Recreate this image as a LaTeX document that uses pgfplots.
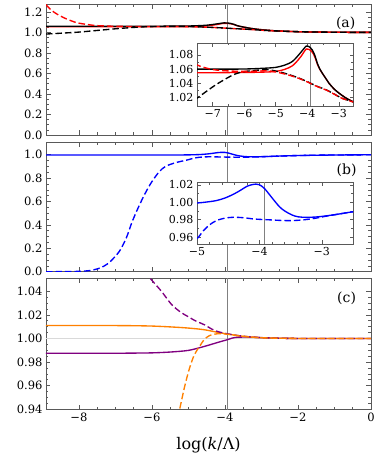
\documentclass[border=0pt]{standalone}
\usepackage{fontspec}
\setmainfont{DejaVu Serif}
\usepackage{pgfplots}
\pgfplotsset{compat=1.18}
\usepackage{pgfplotstable}

% ---------- panel (a) ----------
\pgfplotstableread{
x y
-8.9 1.060
-8.4 1.060
-7.9 1.060
-7.4 1.060
-6.9 1.060
-6.4 1.0601
-6.0 1.0602
-5.5 1.061
-5.0 1.0625
-4.7 1.066
-4.5 1.070
-4.37 1.0753
-4.2 1.084
-4.1 1.0894
-4.03 1.0927
-3.95 1.0920
-3.84 1.087
-3.75 1.078
-3.68 1.068
-3.6 1.060
-3.52 1.054
-3.4 1.046
-3.31 1.040
-3.15 1.032
-2.99 1.026
-2.8 1.020
-2.55 1.014
-2.3 1.010
-2.0 1.007
-1.5 1.0035
-1.0 1.0015
-0.5 1.0005
0 1.0
}\blacksolid
\pgfplotstableread{
x y
-8.9 1.055
-8.4 1.055
-7.9 1.055
-7.4 1.055
-6.9 1.055
-6.4 1.0552
-6.0 1.0553
-5.5 1.0557
-5.0 1.0567
-4.7 1.060
-4.5 1.064
-4.37 1.069
-4.2 1.078
-4.1 1.0847
-4.03 1.0885
-3.95 1.0880
-3.84 1.084
-3.75 1.076
-3.68 1.067
-3.6 1.0595
-3.52 1.054
-3.4 1.046
-3.31 1.040
-3.15 1.032
-2.99 1.026
-2.8 1.020
-2.55 1.014
-2.3 1.010
-2.0 1.007
-1.5 1.0035
-1.0 1.0015
-0.5 1.0005
0 1.0
}\redsolid
\pgfplotstableread{
x y
-8.9 0.984
-8.5 0.992
-8.0 1.003
-7.5 1.019
-6.9 1.038
-6.35 1.052
-6.0 1.0565
-5.6 1.0585
-5.2 1.059
-4.7 1.054
-4.3 1.048
-4.0 1.0424
-3.7 1.036
-3.41 1.031
-3.15 1.025
-2.9 1.019
-2.55 1.014
-2.0 1.007
-1.5 1.0035
-1.0 1.0015
-0.5 1.0005
0 1.0
}\blackdashed
\pgfplotstableread{
x y
-8.9 1.27
-8.75 1.215
-8.56 1.17
-8.33 1.13
-8.06 1.095
-7.79 1.078
-7.5 1.066
-7.0 1.0595
-6.5 1.0575
-6.0 1.0568
-5.6 1.0572
-5.2 1.0575
-4.7 1.0530
-4.3 1.0475
-4.0 1.0420
-3.7 1.0357
-3.41 1.0307
-3.15 1.0248
-2.9 1.0188
-2.55 1.0138
-2.0 1.007
-1.5 1.0035
-1.0 1.0015
-0.5 1.0005
0 1.0
}\reddashed

% ---------- panel (b) ----------
\pgfplotstableread{
x y
-8.9 0.998
-8.4 0.998
-7.9 0.998
-7.4 0.998
-6.9 0.998
-6.4 0.998
-5.9 0.998
-5.5 0.9981
-5.2 0.9985
-5.0 0.9992
-4.85 1.0003
-4.69 1.0020
-4.55 1.0050
-4.41 1.0095
-4.3 1.0140
-4.2 1.0184
-4.12 1.0203
-4.06 1.0210
-4.0 1.0203
-3.92 1.0160
-3.84 1.0090
-3.76 1.0018
-3.68 0.9950
-3.6 0.9903
-3.48 0.9855
-3.38 0.9833
-3.25 0.9827
-3.11 0.9830
-2.97 0.9840
-2.83 0.9854
-2.68 0.9870
-2.53 0.9888
-2.3 0.9910
-2.0 0.9935
-1.5 0.9962
-1.0 0.9980
-0.5 0.9992
0 1.0
}\bluesolid
\pgfplotstableread{
x y
-8.9 0.0
-8.5 0.0005
-8.0 0.003
-7.7 0.010
-7.44 0.030
-7.2 0.070
-6.9 0.170
-6.7 0.290
-6.55 0.420
-6.4 0.530
-6.28 0.610
-6.15 0.690
-6.0 0.770
-5.8 0.855
-5.63 0.900
-5.4 0.928
-5.2 0.944
-5.0 0.958
-4.9 0.967
-4.8 0.974
-4.69 0.9789
-4.55 0.9818
-4.41 0.9828
-4.25 0.9822
-4.09 0.9808
-3.95 0.9802
-3.83 0.9798
-3.68 0.9792
-3.54 0.9789
-3.4 0.9792
-3.27 0.9800
-3.1 0.9817
-2.94 0.9839
-2.75 0.9862
-2.53 0.9888
-2.3 0.9910
-2.0 0.9935
-1.5 0.9962
-1.0 0.9980
-0.5 0.9992
0 1.0
}\bluedashed

% ---------- panel (c) ----------
\pgfplotstableread{
x y
-8.9 1.0110
-8.4 1.0110
-7.9 1.0110
-7.4 1.0110
-6.9 1.0109
-6.5 1.0108
-6.0 1.0105
-5.5 1.0098
-5.0 1.0088
-4.57 1.0074
-4.2 1.0052
-3.94 1.0038
-3.67 1.0025
-3.4 1.0015
-3.0 1.0006
-2.5 1.0002
-2.0 1.0
-1.5 1.0
-1.0 1.0
-0.5 1.0
0 1.0
}\orangesolid
\pgfplotstableread{
x y
-8.9 0.9875
-8.4 0.9875
-7.9 0.9875
-7.4 0.9875
-6.9 0.9875
-6.5 0.9876
-6.0 0.9878
-5.5 0.9885
-5.0 0.9899
-4.57 0.9932
-4.2 0.9966
-3.94 0.9989
-3.8 1.0003
-3.67 1.0010
-3.4 1.0012
-3.0 1.0007
-2.5 1.0002
-2.0 1.0
-1.5 1.0
-1.0 1.0
-0.5 1.0
0 1.0
}\purplesolid
\pgfplotstableread{
x y
-6.2 1.057
-6.05 1.051
-5.74 1.040
-5.46 1.0287
-5.2 1.0220
-5.02 1.0187
-4.8 1.0148
-4.57 1.0117
-4.35 1.0078
-4.16 1.0055
-3.94 1.0040
-3.7 1.0027
-3.4 1.0016
-3.0 1.0007
-2.5 1.0002
-2.0 1.0
-1.5 1.0
-1.0 1.0
-0.5 1.0
0 1.0
}\purpledashed
\pgfplotstableread{
x y
-5.35 0.925
-5.24 0.940
-5.1 0.9597
-4.97 0.9748
-4.84 0.9860
-4.7 0.9930
-4.57 0.9989
-4.43 1.0023
-4.2 1.0040
-3.94 1.0036
-3.67 1.0025
-3.4 1.0015
-3.0 1.0006
-2.5 1.0002
-2.0 1.0
-1.5 1.0
-1.0 1.0
-0.5 1.0
0 1.0
}\orangedashed

\definecolor{mred}{rgb}{1,0,0}
\definecolor{mblue}{rgb}{0,0,1}
\definecolor{morange}{rgb}{1,0.5,0}
\definecolor{mpurple}{rgb}{0.5,0,0.5}
\definecolor{framegray}{gray}{0.35}

\pgfplotsset{
  frame/.style={
    scale only axis,
    axis line style={framegray, line width=0.8pt},
    tick style={framegray, line width=0.6pt},
    major tick length=4.5pt, minor tick length=2.5pt,
    tick align=inside,
    tick label style={font=\fontsize{11.5}{12}\selectfont, text=black},
    /pgf/number format/assume math mode=true,
  },
  main/.style={
    frame, width=325pt, xmin=-8.9, xmax=0,
    xtick={-8,-6,-4,-2,0}, minor x tick num=3, minor y tick num=3,
  },
  inset/.style={
    frame, width=156pt,
    axis background/.style={fill=white},
    tick label style={font=\fontsize{11}{12}\selectfont, text=black},
    major tick length=3.5pt, minor tick length=2pt,
  },
  curve/.style={line width=1.35pt, smooth, no markers},
  dsh/.style={dash pattern=on 6.5pt off 3pt},
  vline/.style={gray, line width=1pt, no markers},
}

\begin{document}
\begin{tikzpicture}
\path[use as bounding box] (-46pt,0pt) rectangle (328pt,-454pt);

% ===== (a) =====
\begin{axis}[main, at={(0pt,-4.7pt)}, anchor=north west, height=130.3pt,
  ymin=0, ymax=1.27, ytick={0,0.2,0.4,0.6,0.8,1.0,1.2},
  yticklabels={0.0,0.2,0.4,0.6,0.8,1.0,1.2}, xticklabels={}]
\addplot[vline] coordinates {(-3.92,0) (-3.92,1.27)};
\addplot[curve, mred] table {\redsolid};
\addplot[curve, black] table {\blacksolid};
\addplot[curve, dsh, mred] table {\reddashed};
\addplot[curve, dsh, black] table {\blackdashed};
\node[font=\fontsize{14}{16}\selectfont] at (rel axis cs:0.922,0.857) {(a)};
\end{axis}

\begin{axis}[inset, at={(151pt,-43.3pt)}, anchor=north west, height=62.7pt,
  xmin=-7.5, xmax=-2.55, ymin=1.008, ymax=1.0965,
  xtick={-7,-6,-5,-4,-3}, xticklabels={−7,−6,−5,−4,−3}, minor x tick num=1,
  ytick={1.02,1.04,1.06,1.08}, yticklabels={1.02,1.04,1.06,1.08}, minor y tick num=1]
\addplot[vline] coordinates {(-3.91,1.0) (-3.91,1.1)};
\addplot[curve, mred] table {\redsolid};
\addplot[curve, black] table {\blacksolid};
\addplot[curve, dsh, black] table {\blackdashed};
\addplot[curve, dsh, mred] table {\reddashed};
\end{axis}

% ===== (b) =====
\begin{axis}[main, at={(0pt,-142.5pt)}, anchor=north west, height=129.2pt,
  ymin=0, ymax=1.105, ytick={0,0.2,0.4,0.6,0.8,1.0},
  yticklabels={0.0,0.2,0.4,0.6,0.8,1.0}, xticklabels={}]
\addplot[vline] coordinates {(-3.92,0) (-3.92,1.2)};
\addplot[curve, mblue] table {\bluesolid};
\addplot[curve, dsh, mblue] table {\bluedashed};
\node[font=\fontsize{14}{16}\selectfont] at (rel axis cs:0.925,0.787) {(b)};
\end{axis}

\begin{axis}[inset, at={(151pt,-182.7pt)}, anchor=north west, height=61.3pt,
  xmin=-5, xmax=-2.5, ymin=0.952, ymax=1.0226,
  xtick={-5,-4,-3}, xticklabels={−5,−4,−3}, minor x tick num=4,
  ytick={0.96,0.98,1.00,1.02}, yticklabels={0.96,0.98,1.00,1.02}, minor y tick num=1]
\addplot[vline] coordinates {(-3.92,0.9) (-3.92,1.1)};
\addplot[curve, mblue] table {\bluesolid};
\addplot[curve, dsh, mblue] table {\bluedashed};
\end{axis}

% ===== (c) =====
\begin{axis}[main, at={(0pt,-278pt)}, anchor=north west, height=131.3pt,
  ymin=0.94, ymax=1.0512, ytick={0.94,0.96,0.98,1.00,1.02,1.04},
  yticklabels={0.94,0.96,0.98,1.00,1.02,1.04},
  xticklabels={−8,−6,−4,−2,0},
  xlabel={log(\textit{k}/Λ)},
  xlabel style={font=\fontsize{16}{18}\selectfont, at={(axis description cs:0.5,-0.27)}, anchor=center}]
\addplot[black!15, line width=1.2pt, no markers] coordinates {(-8.9,1.0) (0,1.0)};
\addplot[vline] coordinates {(-3.92,0.9) (-3.92,1.1)};
\addplot[curve, mpurple] table {\purplesolid};
\addplot[curve, morange] table {\orangesolid};
\addplot[curve, dsh, mpurple] table {\purpledashed};
\addplot[curve, dsh, morange] table {\orangedashed};
\node[font=\fontsize{14}{16}\selectfont] at (rel axis cs:0.925,0.845) {(c)};
\end{axis}
\end{tikzpicture}
\end{document}
